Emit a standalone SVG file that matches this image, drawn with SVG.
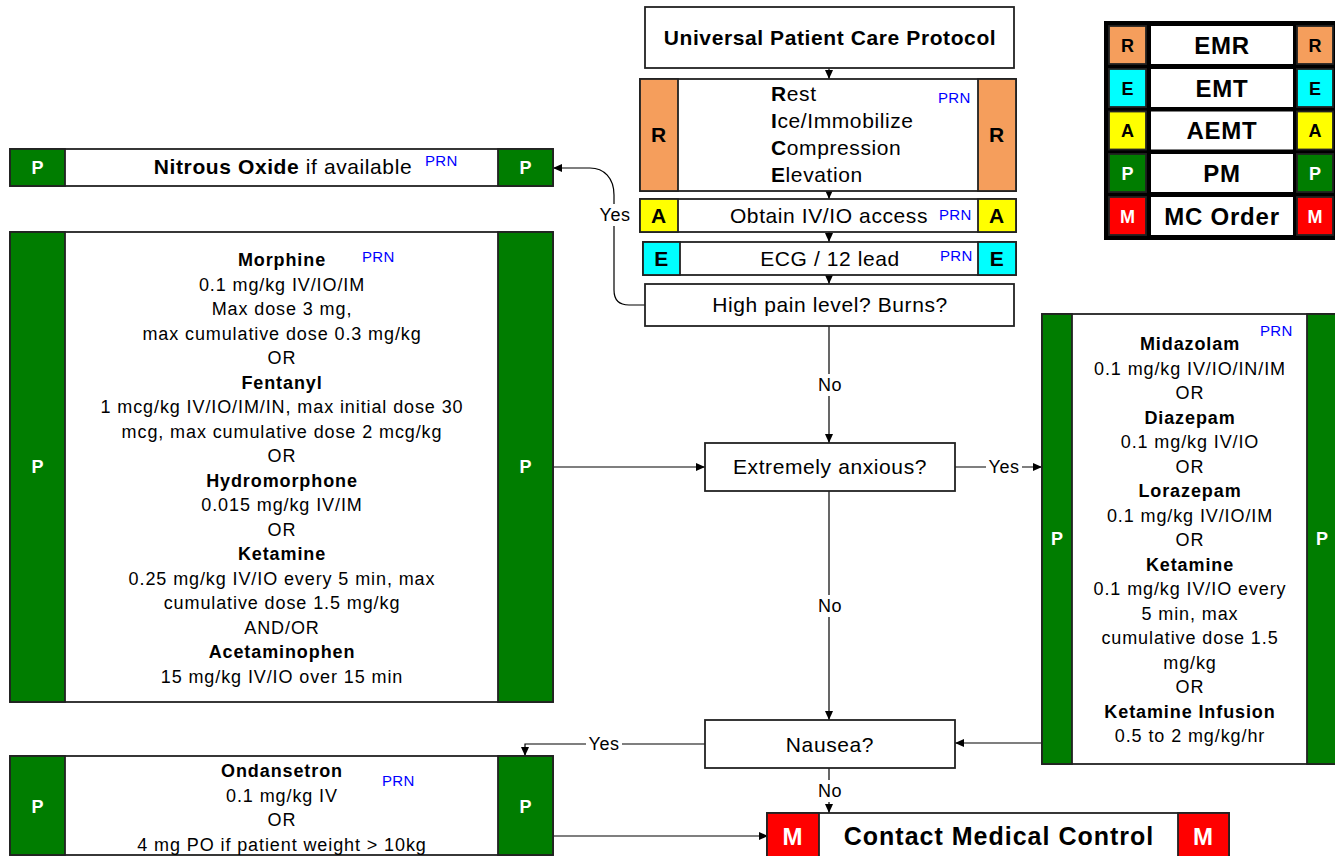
<svg xmlns="http://www.w3.org/2000/svg" width="1335" height="856" viewBox="0 0 1335 856">
<defs>
<style>
text{font-family:"Liberation Sans",Arial,sans-serif;fill:#000}
.box{fill:#fff;stroke:#222;stroke-width:1.8}
.org{fill:#F59E5C;stroke:#222;stroke-width:1.8}
.yel{fill:#FFFF00;stroke:#222;stroke-width:1.8}
.cyn{fill:#00FFFF;stroke:#222;stroke-width:1.8}
.grn{fill:#007D00;stroke:#222;stroke-width:1.8}
.red{fill:#FF0000;stroke:#222;stroke-width:1.8}
.m{font-size:21px;letter-spacing:0.6px}
.s{font-size:18px;letter-spacing:0.9px}
.c{text-anchor:middle}
.b{font-weight:bold}
.prn{font-size:15px;fill:#0000FF;letter-spacing:0.3px}
.w{fill:#fff}
.lt{font-size:18px;font-weight:bold;text-anchor:middle}
.lg{font-size:24px;font-weight:bold;text-anchor:middle;letter-spacing:0.8px}
.lbl{font-size:18px;text-anchor:middle;letter-spacing:0.5px}
.ln{fill:none;stroke:#000;stroke-width:1.2}
.bg{fill:#fff}
</style>
<marker id="ah" markerUnits="userSpaceOnUse" markerWidth="10" markerHeight="10" refX="9" refY="4" orient="auto">
<path d="M0,0 L9,4 L0,8 z" fill="#000"/>
</marker>
</defs>
<rect width="1335" height="856" fill="#fff"/>

<g id="connectors">
<path class="ln" d="M829,68 V79" marker-end="url(#ah)"/>
<path class="ln" d="M829,191 V199" marker-end="url(#ah)"/>
<path class="ln" d="M829,232 V242" marker-end="url(#ah)"/>
<path class="ln" d="M829,275 V284" marker-end="url(#ah)"/>
<path class="ln" d="M645,305 H629 Q614,305 614,290 V195 C614,178 604,168 590,168 H553" marker-end="url(#ah)"/>
<rect class="bg" x="598" y="204" width="34" height="22"/>
<text class="lbl" x="615" y="221">Yes</text>
<path class="ln" d="M829,326 V443" marker-end="url(#ah)"/>
<rect class="bg" x="815" y="374" width="30" height="22"/>
<text class="lbl" x="830" y="391">No</text>
<path class="ln" d="M553,467 H705" marker-end="url(#ah)"/>
<path class="ln" d="M955,467 H1042" marker-end="url(#ah)"/>
<rect class="bg" x="986" y="456" width="36" height="22"/>
<text class="lbl" x="1004" y="473">Yes</text>
<path class="ln" d="M829,491 V720" marker-end="url(#ah)"/>
<rect class="bg" x="815" y="595" width="30" height="22"/>
<text class="lbl" x="830" y="612">No</text>
<path class="ln" d="M1042,743 H955" marker-end="url(#ah)"/>
<path class="ln" d="M705,744 H525 V756" marker-end="url(#ah)"/>
<rect class="bg" x="586" y="733" width="36" height="22"/>
<text class="lbl" x="604" y="750">Yes</text>
<path class="ln" d="M829,768 V813" marker-end="url(#ah)"/>
<rect class="bg" x="815" y="780" width="30" height="22"/>
<text class="lbl" x="830" y="797">No</text>
<path class="ln" d="M553,836 H768" marker-end="url(#ah)"/>
</g>

<g id="universal">
<rect class="box" x="645" y="7" width="369" height="61"/>
<text class="m b c" x="830" y="45">Universal Patient Care Protocol</text>
</g>

<g id="rice">
<rect class="box" x="640" y="79" width="376" height="112"/>
<rect class="org" x="640" y="79" width="38" height="112"/>
<rect class="org" x="978" y="79" width="38" height="112"/>
<text class="m b c" x="659" y="142">R</text>
<text class="m b c" x="997" y="142">R</text>
<text class="m" x="771" y="101"><tspan class="b">R</tspan>est</text>
<text class="m" x="771" y="128"><tspan class="b">I</tspan>ce/Immobilize</text>
<text class="m" x="771" y="155"><tspan class="b">C</tspan>ompression</text>
<text class="m" x="771" y="182"><tspan class="b">E</tspan>levation</text>
<text class="prn" x="938" y="103">PRN</text>
</g>

<g id="ivio">
<rect class="box" x="640" y="199" width="376" height="33"/>
<rect class="yel" x="640" y="199" width="38" height="33"/>
<rect class="yel" x="978" y="199" width="38" height="33"/>
<text class="m b c" x="659" y="223">A</text>
<text class="m b c" x="997" y="223">A</text>
<text class="m c" x="829" y="223">Obtain IV/IO access</text>
<text class="prn" x="939" y="220">PRN</text>
</g>

<g id="ecg">
<rect class="box" x="643" y="242" width="373" height="33"/>
<rect class="cyn" x="643" y="242" width="37" height="33"/>
<rect class="cyn" x="978" y="242" width="38" height="33"/>
<text class="m b c" x="661.5" y="266">E</text>
<text class="m b c" x="997" y="266">E</text>
<text class="m c" x="830" y="266">ECG / 12 lead</text>
<text class="prn" x="940" y="261">PRN</text>
</g>

<g id="highpain">
<rect class="box" x="645" y="284" width="369" height="42"/>
<text class="m c" x="830" y="312">High pain level? Burns?</text>
</g>

<g id="nitrous">
<rect class="box" x="10" y="149" width="543" height="37"/>
<rect class="grn" x="10" y="149" width="55" height="37"/>
<rect class="grn" x="498" y="149" width="55" height="37"/>
<text class="lt w" x="37.5" y="174">P</text>
<text class="lt w" x="525.5" y="174">P</text>
<text class="m c" x="283" y="174"><tspan class="b">Nitrous Oxide</tspan> if available</text>
<text class="prn" x="425" y="166">PRN</text>
</g>

<g id="analgesia">
<rect class="box" x="10" y="232" width="543" height="470"/>
<rect class="grn" x="10" y="232" width="55" height="470"/>
<rect class="grn" x="498" y="232" width="55" height="470"/>
<text class="lt w" x="37.5" y="473">P</text>
<text class="lt w" x="525.5" y="473">P</text>
<text class="prn" x="362" y="262">PRN</text>
<text class="s c b" x="282" y="266">Morphine</text>
<text class="s c" x="282" y="290.5">0.1 mg/kg IV/IO/IM</text>
<text class="s c" x="282" y="315">Max dose 3 mg,</text>
<text class="s c" x="282" y="339.5">max cumulative dose 0.3 mg/kg</text>
<text class="s c" x="282" y="364">OR</text>
<text class="s c b" x="282" y="388.5">Fentanyl</text>
<text class="s c" x="282" y="413">1 mcg/kg IV/IO/IM/IN, max initial dose 30</text>
<text class="s c" x="282" y="437.5">mcg, max cumulative dose 2 mcg/kg</text>
<text class="s c" x="282" y="462">OR</text>
<text class="s c b" x="282" y="486.5">Hydromorphone</text>
<text class="s c" x="282" y="511">0.015 mg/kg IV/IM</text>
<text class="s c" x="282" y="535.5">OR</text>
<text class="s c b" x="282" y="560">Ketamine</text>
<text class="s c" x="282" y="584.5">0.25 mg/kg IV/IO every 5 min, max</text>
<text class="s c" x="282" y="609">cumulative dose 1.5 mg/kg</text>
<text class="s c" x="282" y="633.5">AND/OR</text>
<text class="s c b" x="282" y="658">Acetaminophen</text>
<text class="s c" x="282" y="682.5">15 mg/kg IV/IO over 15 min</text>
</g>

<g id="anxious">
<rect class="box" x="705" y="443" width="250" height="48"/>
<text class="m c" x="830" y="474">Extremely anxious?</text>
</g>

<g id="sedation">
<rect class="box" x="1042" y="314" width="295" height="450"/>
<rect class="grn" x="1042" y="314" width="30" height="450"/>
<rect class="grn" x="1307" y="314" width="30" height="450"/>
<text class="lt w" x="1057" y="545">P</text>
<text class="lt w" x="1322" y="545">P</text>
<text class="prn" x="1260" y="336">PRN</text>
<text class="s c b" x="1190" y="350">Midazolam</text>
<text class="s c" x="1190" y="374.5">0.1 mg/kg IV/IO/IN/IM</text>
<text class="s c" x="1190" y="399">OR</text>
<text class="s c b" x="1190" y="423.5">Diazepam</text>
<text class="s c" x="1190" y="448">0.1 mg/kg IV/IO</text>
<text class="s c" x="1190" y="472.5">OR</text>
<text class="s c b" x="1190" y="497">Lorazepam</text>
<text class="s c" x="1190" y="521.5">0.1 mg/kg IV/IO/IM</text>
<text class="s c" x="1190" y="546">OR</text>
<text class="s c b" x="1190" y="570.5">Ketamine</text>
<text class="s c" x="1190" y="595">0.1 mg/kg IV/IO every</text>
<text class="s c" x="1190" y="619.5">5 min, max</text>
<text class="s c" x="1190" y="644">cumulative dose 1.5</text>
<text class="s c" x="1190" y="668.5">mg/kg</text>
<text class="s c" x="1190" y="693">OR</text>
<text class="s c b" x="1190" y="717.5">Ketamine Infusion</text>
<text class="s c" x="1190" y="742">0.5 to 2 mg/kg/hr</text>
</g>

<g id="nausea">
<rect class="box" x="705" y="720" width="250" height="48"/>
<text class="m c" x="830" y="752">Nausea?</text>
</g>

<g id="ondansetron">
<rect class="box" x="10" y="756" width="543" height="99"/>
<rect class="grn" x="10" y="756" width="55" height="99"/>
<rect class="grn" x="498" y="756" width="55" height="99"/>
<text class="lt w" x="37.5" y="813">P</text>
<text class="lt w" x="525.5" y="813">P</text>
<text class="prn" x="382" y="786">PRN</text>
<text class="s c b" x="282" y="777">Ondansetron</text>
<text class="s c" x="282" y="801.5">0.1 mg/kg IV</text>
<text class="s c" x="282" y="826">OR</text>
<text class="s c" x="282" y="850.5">4 mg PO if patient weight &gt; 10kg</text>
</g>

<g id="contact">
<rect class="box" x="767" y="813" width="462" height="60"/>
<rect class="red" x="767" y="813" width="52" height="60"/>
<rect class="red" x="1178" y="813" width="51" height="60"/>
<text class="lg w" x="793" y="845">M</text>
<text class="lg w" x="1203.5" y="845">M</text>
<text class="b c" x="999" y="845" style="font-size:25px;letter-spacing:1px">Contact Medical Control</text>
</g>

<g id="legend">
<rect x="1104" y="21" width="233" height="219" fill="#000"/>
<rect class="org" x="1109" y="26" width="37" height="38" stroke-width="1"/>
<rect fill="#fff" x="1151" y="26" width="142" height="38"/>
<rect class="org" x="1297" y="26" width="36" height="38" stroke-width="1"/>
<text class="lt" x="1127.5" y="51.5">R</text>
<text class="lg" x="1222" y="53.5">EMR</text>
<text class="lt" x="1315" y="51.5">R</text>
<rect class="cyn" x="1109" y="69" width="37" height="38" stroke-width="1"/>
<rect fill="#fff" x="1151" y="69" width="142" height="38"/>
<rect class="cyn" x="1297" y="69" width="36" height="38" stroke-width="1"/>
<text class="lt" x="1127.5" y="94.5">E</text>
<text class="lg" x="1222" y="96.5">EMT</text>
<text class="lt" x="1315" y="94.5">E</text>
<rect class="yel" x="1109" y="111.5" width="37" height="38" stroke-width="1"/>
<rect fill="#fff" x="1151" y="111.5" width="142" height="38"/>
<rect class="yel" x="1297" y="111.5" width="36" height="38" stroke-width="1"/>
<text class="lt" x="1127.5" y="137">A</text>
<text class="lg" x="1222" y="139">AEMT</text>
<text class="lt" x="1315" y="137">A</text>
<rect class="grn" x="1109" y="154" width="37" height="38" stroke-width="1"/>
<rect fill="#fff" x="1151" y="154" width="142" height="38"/>
<rect class="grn" x="1297" y="154" width="36" height="38" stroke-width="1"/>
<text class="lt w" x="1127.5" y="179.5">P</text>
<text class="lg" x="1222" y="181.5">PM</text>
<text class="lt w" x="1315" y="179.5">P</text>
<rect class="red" x="1109" y="197" width="37" height="38" stroke-width="1"/>
<rect fill="#fff" x="1151" y="197" width="142" height="38"/>
<rect class="red" x="1297" y="197" width="36" height="38" stroke-width="1"/>
<text class="lt w" x="1127.5" y="222.5">M</text>
<text class="lg" x="1222" y="224.5">MC Order</text>
<text class="lt w" x="1315" y="222.5">M</text>
</g>
</svg>
